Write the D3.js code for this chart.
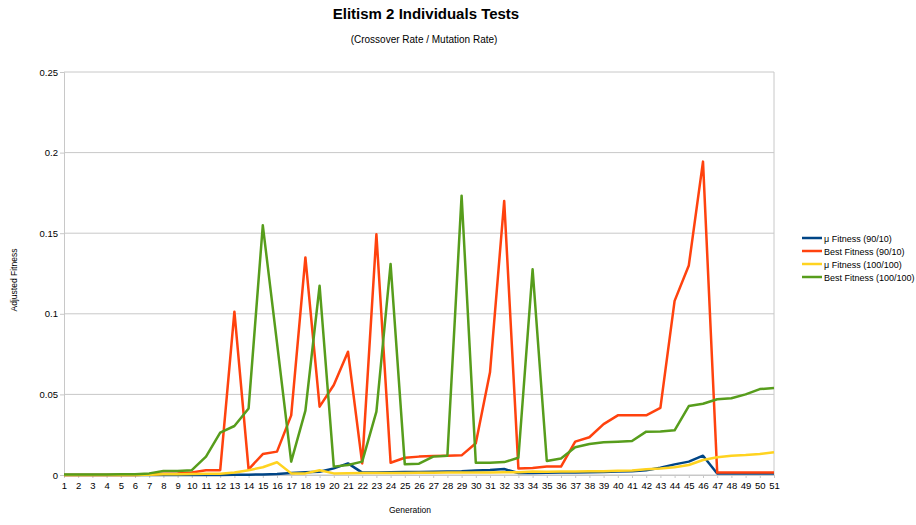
<!DOCTYPE html>
<html>
<head>
<meta charset="utf-8">
<script src="https://cdn.jsdelivr.net/npm/d3@7"></script>
<style>
  body { margin: 0; background: #fff; }
  text { font-family: "Liberation Sans", Arial, sans-serif; fill: #000; }
</style>
</head>
<body>
<script>
// generations 1..51
let generations = d3.range(1, 52);

let seriesNames = ["μ Fitness (90/10)", "Best Fitness (90/10)", "μ Fitness (100/100)", "Best Fitness (100/100)"];
let seriesColors = ["#004586", "#ff420e", "#ffd320", "#579d1c"];

let muFitness9010 = [
  0, 0, 0, 0, 0, 0, 0, 0, 0, 0,
  0, 0, 0.0001, 0.0002, 0.0003, 0.0006, 0.0013, 0.0017, 0.002, 0.0041,
  0.0072, 0.0015, 0.0016, 0.0017, 0.0018, 0.0019, 0.002, 0.0022, 0.0024, 0.0028,
  0.0031, 0.0037, 0.0012, 0.0013, 0.0014, 0.0015, 0.0016, 0.0017, 0.0019, 0.0021,
  0.0024, 0.003, 0.0045, 0.0066, 0.0083, 0.012, 0.0009, 0.0009, 0.0009, 0.0009,
  0.0009
];

let bestFitness9010 = [
  0, 0, 0, 0, 0, 0, 0.0003, 0.0008, 0.001, 0.0015,
  0.003, 0.003, 0.1013, 0.0035, 0.013, 0.0145, 0.037, 0.135, 0.0424, 0.0558,
  0.0765, 0.0072, 0.1493, 0.0076, 0.0107, 0.0114, 0.0118, 0.012, 0.0122, 0.0197,
  0.0637, 0.170, 0.0041, 0.0043, 0.0052, 0.0052, 0.0207, 0.0234, 0.0316, 0.037,
  0.037, 0.037, 0.0416, 0.108, 0.130, 0.1944, 0.0015, 0.0015, 0.0015, 0.0015,
  0.0015
];

let muFitness100100 = [
  0, 0, 0, 0, 0, 0, 0.0002, 0.0004, 0.0005, 0.0006,
  0.0007, 0.0008, 0.0015, 0.003, 0.0048, 0.0079, 0.001, 0.001, 0.003, 0.001,
  0.0011, 0.0012, 0.0012, 0.0013, 0.0013, 0.0014, 0.0014, 0.0015, 0.0015, 0.0016,
  0.0016, 0.0017, 0.0017, 0.0021, 0.002, 0.0021, 0.0022, 0.0023, 0.0024, 0.0026,
  0.0028, 0.0035, 0.004, 0.0048, 0.0062, 0.0093, 0.011, 0.012, 0.0124, 0.013,
  0.0141
];

let bestFitness100100 = [
  0.0003, 0.0003, 0.0003, 0.0003, 0.0004, 0.0005, 0.001, 0.0025, 0.0025, 0.003,
  0.0114, 0.0263, 0.0304, 0.0413, 0.1549, 0.082, 0.0083, 0.0399, 0.1174, 0.0052,
  0.0062, 0.0083, 0.0393, 0.1309, 0.0066, 0.007, 0.0114, 0.012, 0.1733, 0.0076,
  0.0076, 0.008, 0.0107, 0.1276, 0.0087, 0.0103, 0.0172, 0.0192, 0.0203, 0.0207,
  0.0211, 0.0269, 0.027, 0.0277, 0.0428, 0.0442, 0.047, 0.0476, 0.050, 0.0533,
  0.054
];

let yTicks = [0, 0.05, 0.1, 0.15, 0.2, 0.25];

let allSeries = [muFitness9010, bestFitness9010, muFitness100100, bestFitness100100];

let width = 916;
let height = 525;
let margin = { top: 72, right: 142, bottom: 50, left: 64 };

let svg = d3.select("body").append("svg")
  .attr("width", width)
  .attr("height", height);

let x = d3.scalePoint()
  .domain(generations)
  .range([margin.left, width - margin.right]);

let y = d3.scaleLinear()
  .domain([0, 0.25])
  .range([height - margin.bottom, margin.top]);

// gridlines
svg.append("g")
  .selectAll("line")
  .data(yTicks)
  .enter()
  .append("line")
  .attr("x1", margin.left)
  .attr("x2", width - margin.right)
  .attr("y1", (d) => y(d))
  .attr("y2", (d) => y(d))
  .attr("stroke", "#c8c8c8")
  .attr("stroke-width", 1);

// right frame line
svg.append("line")
  .attr("x1", width - margin.right)
  .attr("x2", width - margin.right)
  .attr("y1", y(0.25))
  .attr("y2", y(0))
  .attr("stroke", "#c8c8c8");

// y axis
let yAxis = svg.append("g")
  .attr("transform", `translate(${margin.left},0)`)
  .call(d3.axisLeft(y).tickValues(yTicks).tickSize(4).tickPadding(2).tickFormat((d) => String(d)));
yAxis.select(".domain").attr("stroke", "#c8c8c8");
yAxis.selectAll(".tick line").attr("stroke", "#c8c8c8");
yAxis.selectAll("text").style("font-size", "9.5px").attr("fill", "#000");

// x axis
let xAxis = svg.append("g")
  .attr("transform", `translate(0,${y(0)})`)
  .call(d3.axisBottom(x).tickSize(3).tickPadding(4));
xAxis.select(".domain").attr("stroke", "#c8c8c8");
xAxis.selectAll(".tick line").attr("stroke", "#c8c8c8");
xAxis.selectAll("text").style("font-size", "9.5px").attr("fill", "#000");

// lines
let line = d3.line()
  .x((d, i) => x(generations[i]))
  .y((d) => y(d));

svg.append("g")
  .selectAll("path")
  .data(allSeries)
  .enter()
  .append("path")
  .attr("d", line)
  .attr("fill", "none")
  .attr("stroke", (d, i) => seriesColors[i])
  .attr("stroke-width", 2.5)
  .attr("stroke-linejoin", "round");

// titles
svg.append("text")
  .attr("x", 426)
  .attr("y", 19)
  .attr("text-anchor", "middle")
  .style("font-size", "15px")
  .style("font-weight", "bold")
  .text("Elitism 2 Individuals Tests");

svg.append("text")
  .attr("x", 424)
  .attr("y", 43)
  .attr("text-anchor", "middle")
  .style("font-size", "10px")
  .text("(Crossover Rate / Mutation Rate)");

svg.append("text")
  .attr("x", 410)
  .attr("y", 513)
  .attr("text-anchor", "middle")
  .style("font-size", "8.5px")
  .text("Generation");

svg.append("text")
  .attr("transform", "translate(17,280) rotate(-90)")
  .attr("text-anchor", "middle")
  .style("font-size", "8.5px")
  .text("Adjusted Fitness");

// legend
let legend = svg.append("g")
  .attr("transform", "translate(802,238)");

let legendItems = legend.selectAll("g")
  .data(seriesNames)
  .enter()
  .append("g")
  .attr("transform", (d, i) => `translate(0,${i * 13})`);

legendItems.append("line")
  .attr("x1", 0)
  .attr("x2", 20)
  .attr("stroke", (d, i) => seriesColors[i])
  .attr("stroke-width", 2.5);

legendItems.append("text")
  .attr("x", 22)
  .attr("y", 3.5)
  .style("font-size", "9px")
  .text((d) => d);
</script>
</body>
</html>
